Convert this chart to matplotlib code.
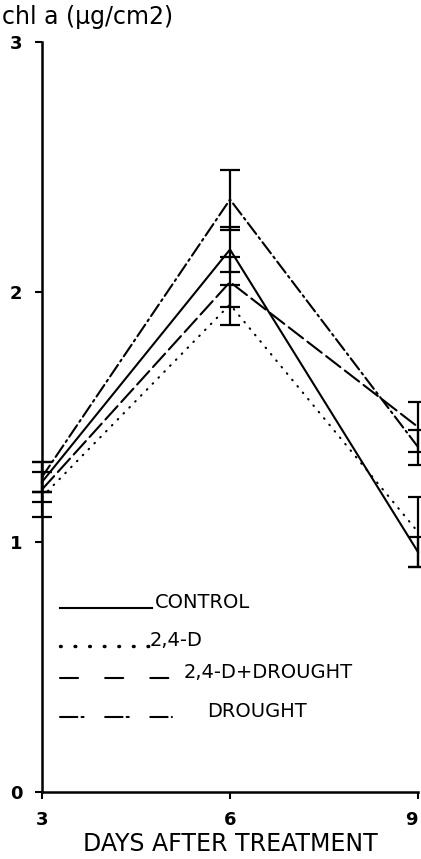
import matplotlib
matplotlib.use("Agg")
import matplotlib.pyplot as plt
from matplotlib.lines import Line2D

plt.rcParams['font.family'] = ['DejaVu Sans']
plt.rcParams['lines.scale_dashes'] = False

# chl a content (ug/cm2) with error bars, 3 - 9 days after treatment
days = [3, 6, 9]
control = [1.24, 2.17, 0.96]
control_err = [0.04, 0.09, 0.06]
d24 = [1.18, 1.95, 1.04]
d24_err = [0.02, 0.08, 0.14]
d24_drought = [1.21, 2.04, 1.46]
d24_drought_err = [0.11, 0.10, 0.10]
drought = [1.26, 2.37, 1.38]
drought_err = [0.06, 0.12, 0.07]

labels = ['CONTROL', '2,4-D', '2,4-D+DROUGHT', 'DROUGHT']
plot_styles = ['-', (0, (0.5, 5.5)), (0, (13, 4)), (0, (10, 3, 1.5, 3))]
key_styles = ['-', (0, (0.5, 10)), (0, (13, 19.5)), (0, (12.5, 3, 1.5, 15.5))]

W, H = 421, 859
fig = plt.figure(figsize=(W / 100, H / 100), dpi=100)
ax = fig.add_axes([42 / W, 1 - 792 / H, (418 - 42) / W, 750 / H])

series = [(control, control_err), (d24, d24_err),
          (d24_drought, d24_drought_err), (drought, drought_err)]
for (vals, errs), ls in zip(series, plot_styles):
    ax.plot(days, vals, color='black', lw=1.5, linestyle=ls,
            dash_capstyle='round', clip_on=False)
    ax.errorbar(days, vals, yerr=errs, fmt='none', ecolor='black',
                elinewidth=1.6, capsize=7, capthick=1.6, clip_on=False)

ax.set_xlim(3, 9)
ax.set_ylim(0, 3)
ax.set_xticks(days)
ax.set_yticks([0, 1, 2, 3])
ax.tick_params(direction='out', length=5, width=1.5)
ax.tick_params(axis='y', pad=9, labelsize=13)
ax.tick_params(axis='x', pad=9, labelsize=13)
for t in ax.get_xticklabels() + ax.get_yticklabels():
    t.set_fontweight('bold')
# keep the last day label inside the figure edge
ax.get_xticklabels()[-1].set_horizontalalignment('right')
for side in ['top', 'right']:
    ax.spines[side].set_visible(False)
for side in ['left', 'bottom']:
    ax.spines[side].set_linewidth(1.8)
ax.set_xlabel('DAYS AFTER TREATMENT', fontsize=17, labelpad=2)

fig.text(2 / W, 1 - 24 / H, 'chl a (\u03bcg/cm2)', fontsize=17,
         ha='left', va='baseline')

# hand-drawn key in pixel positions
key_rows = [(608, 152, 155), (646, 150, 150), (678, 180, 184), (717, 172, 207)]
for (y, x_end, x_text), ls, lab in zip(key_rows, key_styles, labels):
    lw = 2.5 if lab == '2,4-D' else 1.5
    fig.add_artist(Line2D([60 / W, x_end / W], [1 - y / H, 1 - y / H],
                          color='black', lw=lw, linestyle=ls,
                          dash_capstyle='round', transform=fig.transFigure))
    fig.text(x_text / W, 1 - y / H, lab, fontsize=14, ha='left',
             va='baseline')

fig.savefig('out.png', dpi=100)
